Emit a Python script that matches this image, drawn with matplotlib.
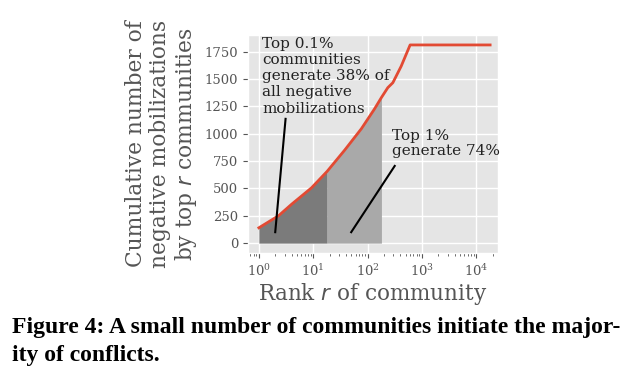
import matplotlib
matplotlib.use('Agg')
import matplotlib.pyplot as plt
import numpy as np

plt.style.use('ggplot')

# cumulative negative mobilizations by rank
rank = [1, 2.3, 4, 9.3, 18, 38, 77, 134, 180, 236, 292, 415, 607, 18000]
cum = [140, 250, 355, 505, 655, 850, 1045, 1225, 1330, 1420, 1465, 1615, 1810, 1810]

cut_top01 = 18    # top 0.1% of communities
cut_top1 = 180    # top 1% of communities

yticks = [0, 250, 500, 750, 1000, 1250, 1500, 1750]

fig = plt.figure(figsize=(6.4, 3.86), dpi=100)
ax = fig.add_axes([0.3875, 0.3446, 0.3906, 0.5645])

rank_a = np.array(rank)
cum_a = np.array(cum)

# shaded regions under the curve
ax.fill_between(rank_a, cum_a, where=rank_a <= cut_top01, color='#7b7b7b', lw=0)
ax.fill_between(rank_a, cum_a, where=(rank_a >= cut_top01) & (rank_a <= cut_top1),
                color='#a9a9a9', lw=0)

ax.plot(rank_a, cum_a, color='#E24A33', lw=2)

ax.set_xscale('log')
ax.set_xlim(10 ** -0.2, 10 ** 4.4)
ax.set_ylim(-90, 1900)
ax.set_yticks(yticks)
ax.grid(True, which='major', color='white', lw=1)

for lab in ax.get_xticklabels() + ax.get_yticklabels():
    lab.set_family('DejaVu Serif')
ax.tick_params(labelsize=9.5, colors='#555555')

ax.set_xlabel('Rank $r$ of community', family='DejaVu Serif', fontsize=15.5,
              color='#555555', labelpad=2)
ax.set_ylabel('Cumulative number of\nnegative mobilizations\nby top $r$ communities',
              family='DejaVu Serif', fontsize=15.7, color='#555555', labelpad=4,
              linespacing=1.1)

# annotations
ax.plot([2.0, 3.1], [100, 1135], color='black', lw=1.5)
ax.text(1.15, 1885, 'Top 0.1%\ncommunities\ngenerate 38% of\nall negative\nmobilizations',
        family='DejaVu Serif', fontsize=11, va='top', ha='left',
        color='#222222', linespacing=1.2)

ax.plot([50, 316], [100, 705], color='black', lw=1.5)
ax.text(283, 1045, 'Top 1%\ngenerate 74%', family='DejaVu Serif', fontsize=11,
        va='top', ha='left', color='#222222', linespacing=1.15)

fig.text(0.018, 0.152, 'Figure 4: A small number of communities initiate the major-',
         family='Liberation Serif', fontweight='bold', fontsize=17, ha='left', va='center')
fig.text(0.018, 0.078, 'ity of conflicts.',
         family='Liberation Serif', fontweight='bold', fontsize=17, ha='left', va='center')

fig.savefig('out.png', dpi=100, facecolor='white')
